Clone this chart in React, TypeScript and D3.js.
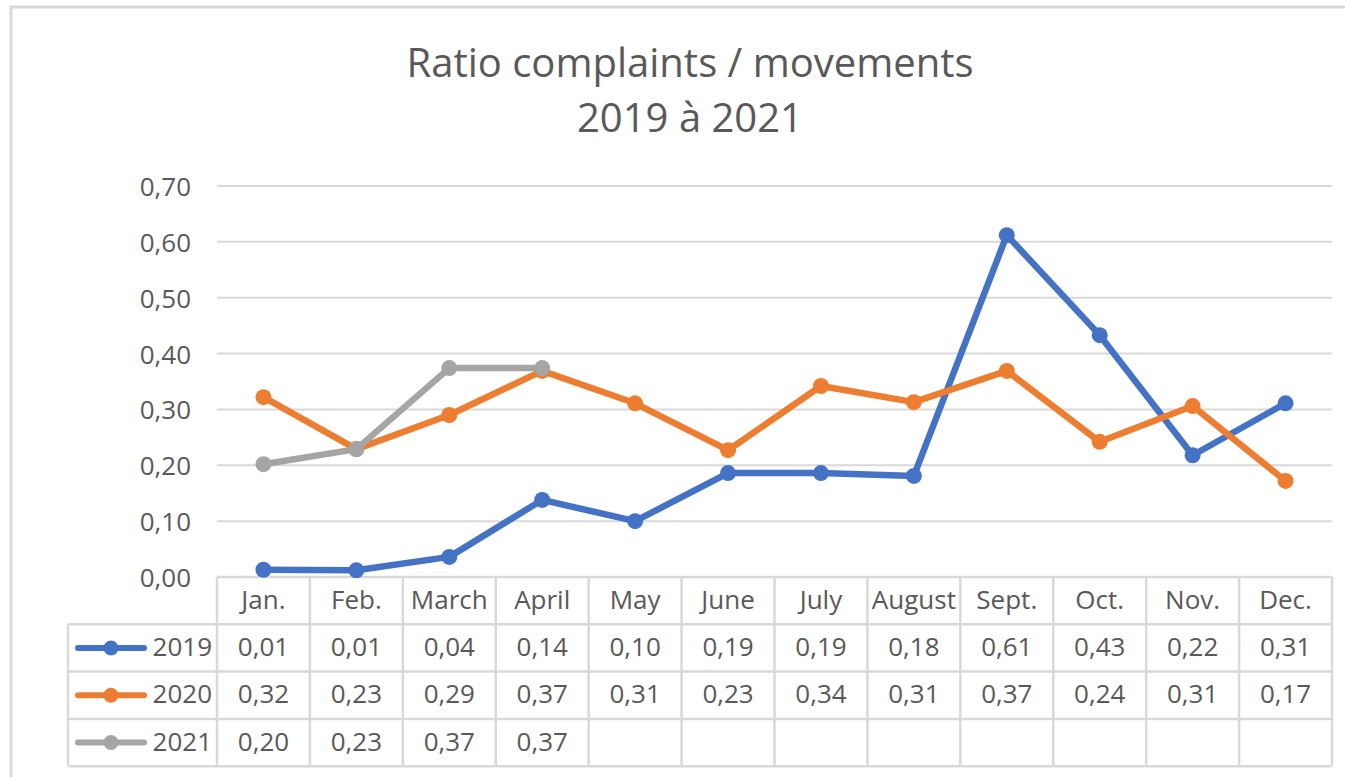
import React, { useEffect, useRef } from "react";
import * as d3 from "d3";

const months = ["Jan.", "Feb.", "March", "April", "May", "June", "July", "August", "Sept.", "Oct.", "Nov.", "Dec."];
const years = ["2019", "2020", "2021"];
const v2019 = [0.013, 0.012, 0.036, 0.138, 0.1, 0.186, 0.186, 0.181, 0.612, 0.433, 0.218, 0.311];
const v2020 = [0.322, 0.229, 0.29, 0.369, 0.311, 0.227, 0.342, 0.313, 0.369, 0.242, 0.306, 0.172];
const v2021 = [0.202, 0.229, 0.374, 0.374];
const yTicks = [0, 0.1, 0.2, 0.3, 0.4, 0.5, 0.6, 0.7];
const COLORS = ["#4472C4", "#ED7D31", "#A5A5A5"];

const W = 1345;
const H = 777;
const FONT = "'Open Sans', 'Noto Sans', sans-serif";
const TEXT = "#595959";
const GRID = "#d9d9d9";

const App: React.FC = () => {
    const svgRef = useRef<SVGSVGElement | null>(null);

    useEffect(() => {
        if (!svgRef.current) return;
        const svg = d3.select(svgRef.current);
        svg.selectAll("*").remove();

        const plot = { left: 217, right: 1332, top: 186, bottom: 577 };
        const series = [v2019, v2020, v2021];
        const fmt = (v: number) => d3.format(".2f")(v).replace(".", ",");

        // chart area border
        svg.append("rect")
            .attr("x", 11).attr("y", 7)
            .attr("width", W + 20).attr("height", H + 20)
            .attr("fill", "white").attr("stroke", GRID).attr("stroke-width", 3);

        // title
        const title = svg.append("text")
            .attr("text-anchor", "middle")
            .attr("fill", TEXT)
            .style("font-family", FONT)
            .style("font-size", "40px");
        title.append("tspan").attr("x", 690).attr("y", 77).text("Ratio complaints / movements");
        title.append("tspan").attr("x", 690).attr("y", 132).text("2019 à 2021");

        const x = d3.scaleBand<string>().domain(months).range([plot.left, plot.right]);
        const y = d3.scaleLinear().domain([0, 0.7]).range([plot.bottom, plot.top]);

        // gridlines
        svg.append("g")
            .selectAll("line")
            .data(yTicks)
            .join("line")
            .attr("x1", plot.left).attr("x2", plot.right)
            .attr("y1", d => y(d)).attr("y2", d => y(d))
            .attr("stroke", GRID).attr("stroke-width", 2);

        // y labels
        svg.append("g")
            .selectAll("text")
            .data(yTicks)
            .join("text")
            .attr("x", 191)
            .attr("y", d => y(d) + 10)
            .attr("text-anchor", "end")
            .attr("fill", TEXT)
            .style("font-family", FONT)
            .style("font-size", "26px")
            .text(d => fmt(d));

        // data table
        const rowH = 47.3;
        const tableLeft = 68;
        const rowsTop = plot.bottom + rowH;
        const tableBottom = plot.bottom + rowH * 4;
        const tg = svg.append("g").attr("stroke", GRID).attr("stroke-width", 2.5);
        // horizontal lines
        tg.append("line").attr("x1", plot.left).attr("x2", plot.right).attr("y1", plot.bottom).attr("y2", plot.bottom);
        [1, 2, 3, 4].forEach(i => {
            tg.append("line")
                .attr("x1", tableLeft).attr("x2", plot.right)
                .attr("y1", plot.bottom + rowH * i).attr("y2", plot.bottom + rowH * i);
        });
        // vertical lines
        tg.append("line").attr("x1", tableLeft).attr("x2", tableLeft).attr("y1", rowsTop).attr("y2", tableBottom);
        months.forEach(m => {
            tg.append("line")
                .attr("x1", x(m)!).attr("x2", x(m)!)
                .attr("y1", plot.bottom).attr("y2", tableBottom);
        });
        tg.append("line").attr("x1", plot.right).attr("x2", plot.right).attr("y1", plot.bottom).attr("y2", tableBottom);

        const cellText = (g: d3.Selection<SVGGElement, unknown, null, undefined>) =>
            g.attr("text-anchor", "middle").attr("fill", TEXT)
                .style("font-family", FONT).style("font-size", "26px");

        // month headers
        svg.append("g").call(cellText)
            .selectAll("text")
            .data(months)
            .join("text")
            .attr("x", d => x(d)! + x.bandwidth() / 2)
            .attr("y", plot.bottom + rowH / 2 + 8)
            .text(d => d);

        // values + legend keys
        series.forEach((vals, si) => {
            const cy = rowsTop + rowH * si + rowH / 2;
            svg.append("g").call(cellText)
                .selectAll("text")
                .data(vals)
                .join("text")
                .attr("x", (d, i) => x(months[i])! + x.bandwidth() / 2)
                .attr("y", cy + 8)
                .text(d => fmt(d));

            svg.append("line")
                .attr("x1", 78).attr("x2", 144)
                .attr("y1", cy).attr("y2", cy)
                .attr("stroke", COLORS[si]).attr("stroke-width", 6)
                .attr("stroke-linecap", "round");
            svg.append("circle")
                .attr("cx", 111).attr("cy", cy).attr("r", 7.5)
                .attr("fill", COLORS[si]);
            svg.append("text")
                .attr("x", 212).attr("y", cy + 8)
                .attr("text-anchor", "end")
                .attr("fill", TEXT)
                .style("font-family", FONT)
                .style("font-size", "26px")
                .text(years[si]);
        });

        // lines
        const line = d3.line<number>()
            .x((d, i) => x(months[i])! + x.bandwidth() / 2)
            .y(d => y(d));

        series.forEach((vals, si) => {
            const g = svg.append("g");
            g.append("path")
                .datum(vals)
                .attr("fill", "none")
                .attr("stroke", COLORS[si])
                .attr("stroke-width", 6.5)
                .attr("stroke-linejoin", "round")
                .attr("d", line);
            g.selectAll("circle")
                .data(vals)
                .join("circle")
                .attr("cx", (d, i) => x(months[i])! + x.bandwidth() / 2)
                .attr("cy", d => y(d))
                .attr("r", 8)
                .attr("fill", COLORS[si]);
        });
    }, []);

    return (
        <svg
            ref={svgRef}
            width={W}
            height={H}
            style={{ position: "absolute", left: 0, top: 0, background: "white" }}
        />
    );
};

export default App;
